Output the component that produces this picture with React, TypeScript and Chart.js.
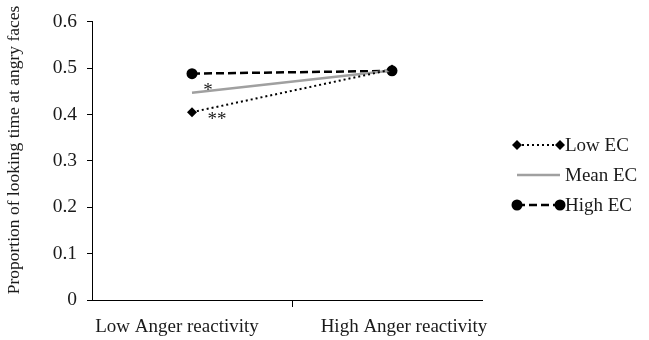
import React, { useEffect, useRef } from 'react';
import { Chart, registerables } from 'chart.js';

Chart.register(...registerables);

const categories = ['Low Anger reactivity', 'High Anger reactivity'];
const seriesNames = ['Low EC', 'Mean EC', 'High EC'];
const lowEC = [0.405, 0.497];
const meanEC = [0.447, 0.495];
const highEC = [0.488, 0.494];
const yTickValues = [0, 0.1, 0.2, 0.3, 0.4, 0.5, 0.6];
const yTitle = 'Proportion of looking time at angry faces';
const significance = [
  { text: '*', series: 1, index: 0 },
  { text: '**', series: 0, index: 0 },
];

const FONT = '"Liberation Serif", "Times New Roman", serif';
const TEXT = '#1a1a1a';

const overlayPlugin = {
  id: 'overlay',
  afterDraw(chart: any) {
    const { ctx, chartArea, scales } = chart;
    const xs = scales.x;
    const ys = scales.y;
    ctx.save();
    // x axis line
    ctx.strokeStyle = '#000';
    ctx.lineWidth = 1;
    ctx.beginPath();
    ctx.moveTo(chartArea.left, chartArea.bottom + 0.5);
    ctx.lineTo(chartArea.right - 9, chartArea.bottom + 0.5);
    ctx.stroke();
    // middle tick
    const mid = Math.round((xs.getPixelForValue(0) + xs.getPixelForValue(1)) / 2) + 0.5;
    ctx.beginPath();
    ctx.moveTo(mid, chartArea.bottom);
    ctx.lineTo(mid, chartArea.bottom + 7);
    ctx.stroke();
    // x labels
    ctx.fillStyle = TEXT;
    ctx.font = `19px ${FONT}`;
    ctx.textAlign = 'center';
    ctx.textBaseline = 'alphabetic';
    const shifts = [-15, 12];
    categories.forEach((c, i) => {
      ctx.fillText(c, xs.getPixelForValue(i) + shifts[i], chartArea.bottom + 32);
    });
    // y title
    ctx.save();
    ctx.translate(14, 150);
    ctx.rotate(-Math.PI / 2);
    ctx.font = `17.5px ${FONT}`;
    ctx.textBaseline = 'middle';
    ctx.fillText(yTitle, 0, 0);
    ctx.restore();
    // significance marks
    ctx.font = `19px ${FONT}`;
    ctx.textAlign = 'center';
    significance.forEach((s) => {
      const meta = chart.getDatasetMeta(s.series);
      const pt = meta.data[s.index];
      if (s.text === '*') ctx.fillText(s.text, pt.x + 16, pt.y + 3);
      else ctx.fillText(s.text, pt.x + 25, pt.y + 13);
    });
    // legend
    chart.data.datasets.forEach((ds: any, i: number) => {
      const y = 145 + i * 30;
      const x0 = 517;
      const x1 = 560;
      ctx.save();
      ctx.strokeStyle = ds.borderColor;
      ctx.lineWidth = ds.borderWidth;
      ctx.setLineDash(ds.borderDash || []);
      ctx.beginPath();
      ctx.moveTo(x0, y);
      ctx.lineTo(x1, y);
      ctx.stroke();
      ctx.restore();
      if (ds.pointRadius > 0) {
        [x0, x1].forEach((px) => {
          ctx.save();
          ctx.fillStyle = ds.pointBackgroundColor;
          ctx.strokeStyle = ds.pointBackgroundColor;
          ctx.lineWidth = 1;
          ctx.beginPath();
          const r = ds.pointRadius;
          if (ds.pointStyle === 'circle') {
            ctx.arc(px, y, r, 0, Math.PI * 2);
          } else {
            ctx.moveTo(px, y - r);
            ctx.lineTo(px + r, y);
            ctx.lineTo(px, y + r);
            ctx.lineTo(px - r, y);
            ctx.closePath();
          }
          ctx.fill();
          ctx.restore();
        });
      }
      ctx.fillStyle = TEXT;
      ctx.font = `19px ${FONT}`;
      ctx.textAlign = 'left';
      ctx.textBaseline = 'middle';
      ctx.fillText(ds.label, 565, y + 1);
    });
    ctx.restore();
  },
};

export default function App() {
  const ref = useRef<HTMLCanvasElement | null>(null);
  useEffect(() => {
    if (!ref.current) return;
    const chart = new Chart(ref.current, {
      type: 'line',
      data: {
        labels: categories,
        datasets: [
          {
            label: seriesNames[0],
            data: lowEC,
            borderColor: '#000',
            borderWidth: 2,
            borderDash: [2, 3],
            pointStyle: 'rectRot',
            pointRadius: 5,
            pointBackgroundColor: '#000',
            pointBorderColor: '#000',
            pointBorderWidth: 0,
          },
          {
            label: seriesNames[1],
            data: meanEC,
            borderColor: '#a0a0a0',
            borderWidth: 2.5,
            pointRadius: 0,
          },
          {
            label: seriesNames[2],
            data: highEC,
            borderColor: '#000',
            borderWidth: 2.5,
            borderDash: [8, 4],
            pointStyle: 'circle',
            pointRadius: 5.5,
            pointBackgroundColor: '#000',
            pointBorderColor: '#000',
            pointBorderWidth: 0,
          },
        ],
      },
      options: {
        animation: false,
        responsive: false,
        maintainAspectRatio: false,
        layout: { padding: { left: 0, right: 157, top: 20, bottom: 0 } },
        plugins: { legend: { display: false }, tooltip: { enabled: false } },
        scales: {
          x: {
            type: 'category',
            offset: true,
            grid: { display: false },
            border: { display: false },
            ticks: { display: false },
            afterFit: (s: any) => {
              s.height = 40;
            },
          },
          y: {
            min: 0,
            max: 0.6,
            afterBuildTicks: (s: any) => {
              s.ticks = yTickValues.map((v) => ({ value: v }));
            },
            afterFit: (s: any) => {
              s.width = 92;
            },
            grid: {
              drawOnChartArea: false,
              drawTicks: true,
              tickLength: 5,
              color: '#000',
            },
            border: { display: true, color: '#000', width: 1 },
            ticks: {
              padding: 10,
              color: TEXT,
              font: { family: FONT, size: 19.5 },
              callback: (v: any) => (Number(v) === 0 ? '0' : Number(v).toFixed(1)),
            },
          },
        },
      },
      plugins: [overlayPlugin],
    });
    return () => chart.destroy();
  }, []);
  return (
    <div style={{ position: 'fixed', left: 0, top: 0, width: 649, height: 340, background: '#fff' }}>
      <canvas ref={ref} width={649} height={340} style={{ display: 'block' }} />
    </div>
  );
}
